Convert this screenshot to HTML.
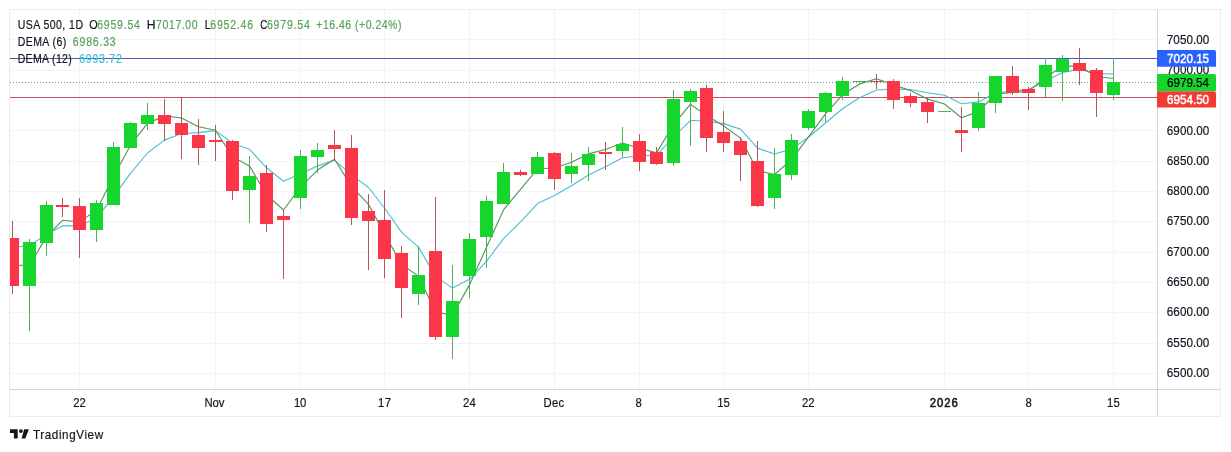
<!DOCTYPE html><html><head><meta charset="utf-8"><style>html,body{margin:0;padding:0;background:#fff;width:1231px;height:452px;overflow:hidden}svg{position:absolute;left:0;top:0;will-change:transform;font-family:"Liberation Sans",sans-serif}</style></head><body>
<svg width="1231" height="452" viewBox="0 0 1231 452">
<path d="M10 373.5H1157 M10 343.5H1157 M10 312.5H1157 M10 282.5H1157 M10 252.5H1157 M10 221.5H1157 M10 191.5H1157 M10 161.5H1157 M10 130.5H1157 M10 100.5H1157 M10 70.5H1157 M10 39.5H1157 M79.5 10V389 M215.5 10V389 M300.5 10V389 M384.5 10V389 M469.5 10V389 M554.5 10V389 M639.5 10V389 M723.5 10V389 M808.5 10V389 M944.5 10V389 M1028.5 10V389 M1113.5 10V389" stroke="#f4f4f7" stroke-width="1" fill="none"/>
<defs><clipPath id="pane"><rect x="10" y="10" width="1147" height="379"/></clipPath></defs>
<g clip-path="url(#pane)">
<rect x="10" y="58" width="1147" height="1" fill="#4d5fb0"/>
<line x1="10" y1="82.5" x2="1157" y2="82.5" stroke="#6aa272" stroke-width="1" stroke-dasharray="1 2"/>
<rect x="10" y="97" width="1147" height="1" fill="#c4525a"/>
<polyline points="12.5,247.3 29.5,245.9 46.5,234.3 62.5,225.9 79.5,225.8 96.5,218.3 113.5,196.7 130.5,173.3 147.5,153.0 164.5,140.1 181.5,133.5 198.5,132.6 215.5,130.6 232.5,143.3 249.5,149.3 266.5,167.8 283.5,181.3 300.5,173.7 317.5,166.1 334.5,160.1 351.5,174.9 368.5,187.5 384.5,208.0 401.5,232.1 418.5,247.1 435.5,276.1 452.5,288.1 469.5,279.3 486.5,261.3 503.5,238.7 520.5,221.8 537.5,203.6 554.5,195.5 571.5,185.8 588.5,175.0 605.5,166.7 622.5,157.8 639.5,156.0 656.5,155.3 673.5,136.8 690.5,120.3 706.5,121.2 723.5,123.6 740.5,129.1 757.5,148.1 774.5,154.0 791.5,149.1 808.5,137.3 825.5,123.0 842.5,108.7 859.5,97.8 876.5,90.0 893.5,89.1 910.5,89.5 927.5,92.8 944.5,95.3 961.5,103.7 978.5,101.9 995.5,93.0 1012.5,91.0 1028.5,89.6 1045.5,80.9 1062.5,72.4 1079.5,69.5 1096.5,73.6 1113.5,74.0" fill="none" stroke="#4cbfd2" stroke-width="1.15" stroke-linejoin="round"/>
<polyline points="12.5,265.0 29.5,265.6 46.5,236.6 62.5,220.3 79.5,221.9 96.5,210.3 113.5,176.5 130.5,145.2 147.5,123.4 164.5,115.9 181.5,118.0 198.5,126.8 215.5,130.2 232.5,156.7 249.5,165.9 266.5,194.7 283.5,210.0 300.5,187.1 317.5,170.1 334.5,159.2 351.5,186.4 368.5,204.4 384.5,233.5 401.5,264.5 418.5,276.1 435.5,312.1 452.5,315.0 469.5,284.9 486.5,247.2 503.5,209.9 520.5,189.3 537.5,168.8 554.5,168.0 571.5,162.3 588.5,153.9 605.5,149.5 622.5,143.0 639.5,148.2 656.5,152.9 673.5,124.7 690.5,104.2 706.5,115.6 723.5,125.8 740.5,138.1 757.5,170.7 774.5,174.5 791.5,159.8 808.5,136.8 825.5,113.9 842.5,94.8 859.5,83.9 876.5,78.7 893.5,84.8 910.5,90.6 927.5,99.1 944.5,104.0 961.5,117.7 978.5,111.4 995.5,94.3 1012.5,92.4 1028.5,91.3 1045.5,77.5 1062.5,66.2 1079.5,65.9 1096.5,76.7 1113.5,78.5" fill="none" stroke="#54985a" stroke-width="1.15" stroke-linejoin="round"/>
<rect x="12" y="221" width="1" height="73" fill="#b7555e"/>
<rect x="6" y="238" width="13" height="48" fill="#fb3649"/>
<rect x="29" y="239" width="1" height="92" fill="#50b05c"/>
<rect x="23" y="242" width="13" height="44" fill="#16d62e"/>
<rect x="46" y="201" width="1" height="55" fill="#50b05c"/>
<rect x="40" y="205" width="13" height="38" fill="#16d62e"/>
<rect x="62" y="198" width="1" height="19" fill="#b7555e"/>
<rect x="56" y="205" width="13" height="2" fill="#fb3649"/>
<rect x="79" y="198" width="1" height="60" fill="#b7555e"/>
<rect x="73" y="206" width="13" height="24" fill="#fb3649"/>
<rect x="96" y="200" width="1" height="42" fill="#50b05c"/>
<rect x="90" y="203" width="13" height="27" fill="#16d62e"/>
<rect x="113" y="142" width="1" height="63" fill="#50b05c"/>
<rect x="107" y="147" width="13" height="58" fill="#16d62e"/>
<rect x="130" y="122" width="1" height="26" fill="#50b05c"/>
<rect x="124" y="123" width="13" height="25" fill="#16d62e"/>
<rect x="147" y="103" width="1" height="27" fill="#50b05c"/>
<rect x="141" y="115" width="13" height="9" fill="#16d62e"/>
<rect x="164" y="99" width="1" height="42" fill="#b7555e"/>
<rect x="158" y="115" width="13" height="9" fill="#fb3649"/>
<rect x="181" y="97" width="1" height="62" fill="#b7555e"/>
<rect x="175" y="123" width="13" height="12" fill="#fb3649"/>
<rect x="198" y="119" width="1" height="46" fill="#b7555e"/>
<rect x="192" y="135" width="13" height="13" fill="#fb3649"/>
<rect x="215" y="125" width="1" height="36" fill="#b7555e"/>
<rect x="209" y="140" width="13" height="2" fill="#fb3649"/>
<rect x="232" y="140" width="1" height="60" fill="#b7555e"/>
<rect x="226" y="141" width="13" height="50" fill="#fb3649"/>
<rect x="249" y="156" width="1" height="67" fill="#50b05c"/>
<rect x="243" y="176" width="13" height="14" fill="#16d62e"/>
<rect x="266" y="165" width="1" height="67" fill="#b7555e"/>
<rect x="260" y="173" width="13" height="51" fill="#fb3649"/>
<rect x="283" y="210" width="1" height="69" fill="#b7555e"/>
<rect x="277" y="216" width="13" height="4" fill="#fb3649"/>
<rect x="300" y="150" width="1" height="59" fill="#50b05c"/>
<rect x="294" y="156" width="13" height="42" fill="#16d62e"/>
<rect x="317" y="143" width="1" height="30" fill="#50b05c"/>
<rect x="311" y="150" width="13" height="7" fill="#16d62e"/>
<rect x="334" y="130" width="1" height="30" fill="#b7555e"/>
<rect x="328" y="145" width="13" height="4" fill="#fb3649"/>
<rect x="351" y="135" width="1" height="90" fill="#b7555e"/>
<rect x="345" y="148" width="13" height="70" fill="#fb3649"/>
<rect x="368" y="194" width="1" height="76" fill="#b7555e"/>
<rect x="362" y="211" width="13" height="10" fill="#fb3649"/>
<rect x="384" y="190" width="1" height="88" fill="#b7555e"/>
<rect x="378" y="220" width="13" height="39" fill="#fb3649"/>
<rect x="401" y="246" width="1" height="72" fill="#b7555e"/>
<rect x="395" y="253" width="13" height="35" fill="#fb3649"/>
<rect x="418" y="246" width="1" height="59" fill="#50b05c"/>
<rect x="412" y="275" width="13" height="19" fill="#16d62e"/>
<rect x="435" y="197" width="1" height="143" fill="#b7555e"/>
<rect x="429" y="251" width="13" height="86" fill="#fb3649"/>
<rect x="452" y="265" width="1" height="94" fill="#50b05c"/>
<rect x="446" y="301" width="13" height="36" fill="#16d62e"/>
<rect x="469" y="233" width="1" height="65" fill="#50b05c"/>
<rect x="463" y="239" width="13" height="37" fill="#16d62e"/>
<rect x="486" y="196" width="1" height="72" fill="#50b05c"/>
<rect x="480" y="201" width="13" height="36" fill="#16d62e"/>
<rect x="503" y="163" width="1" height="41" fill="#50b05c"/>
<rect x="497" y="172" width="13" height="32" fill="#16d62e"/>
<rect x="520" y="170" width="1" height="6" fill="#b7555e"/>
<rect x="514" y="172" width="13" height="3" fill="#fb3649"/>
<rect x="537" y="152" width="1" height="22" fill="#50b05c"/>
<rect x="531" y="157" width="13" height="17" fill="#16d62e"/>
<rect x="554" y="152" width="1" height="38" fill="#b7555e"/>
<rect x="548" y="153" width="13" height="26" fill="#fb3649"/>
<rect x="571" y="153" width="1" height="30" fill="#50b05c"/>
<rect x="565" y="166" width="13" height="8" fill="#16d62e"/>
<rect x="588" y="147" width="1" height="34" fill="#50b05c"/>
<rect x="582" y="154" width="13" height="11" fill="#16d62e"/>
<rect x="605" y="142" width="1" height="28" fill="#b7555e"/>
<rect x="599" y="152" width="13" height="2" fill="#fb3649"/>
<rect x="622" y="127" width="1" height="30" fill="#50b05c"/>
<rect x="616" y="144" width="13" height="7" fill="#16d62e"/>
<rect x="639" y="134" width="1" height="37" fill="#b7555e"/>
<rect x="633" y="141" width="13" height="21" fill="#fb3649"/>
<rect x="656" y="147" width="1" height="18" fill="#b7555e"/>
<rect x="650" y="152" width="13" height="12" fill="#fb3649"/>
<rect x="673" y="90" width="1" height="76" fill="#50b05c"/>
<rect x="667" y="99" width="13" height="64" fill="#16d62e"/>
<rect x="690" y="89" width="1" height="57" fill="#50b05c"/>
<rect x="684" y="91" width="13" height="11" fill="#16d62e"/>
<rect x="706" y="85" width="1" height="67" fill="#b7555e"/>
<rect x="700" y="88" width="13" height="50" fill="#fb3649"/>
<rect x="723" y="111" width="1" height="41" fill="#b7555e"/>
<rect x="717" y="132" width="13" height="11" fill="#fb3649"/>
<rect x="740" y="137" width="1" height="44" fill="#b7555e"/>
<rect x="734" y="141" width="13" height="14" fill="#fb3649"/>
<rect x="757" y="141" width="1" height="66" fill="#b7555e"/>
<rect x="751" y="161" width="13" height="45" fill="#fb3649"/>
<rect x="774" y="148" width="1" height="61" fill="#50b05c"/>
<rect x="768" y="174" width="13" height="24" fill="#16d62e"/>
<rect x="791" y="134" width="1" height="46" fill="#50b05c"/>
<rect x="785" y="140" width="13" height="35" fill="#16d62e"/>
<rect x="808" y="109" width="1" height="21" fill="#50b05c"/>
<rect x="802" y="111" width="13" height="17" fill="#16d62e"/>
<rect x="825" y="92" width="1" height="30" fill="#50b05c"/>
<rect x="819" y="93" width="13" height="19" fill="#16d62e"/>
<rect x="842" y="77" width="1" height="23" fill="#50b05c"/>
<rect x="836" y="81" width="13" height="15" fill="#16d62e"/>
<rect x="859" y="81" width="1" height="1" fill="#50b05c"/>
<rect x="853" y="81" width="13" height="1" fill="#50b05c"/>
<rect x="876" y="74" width="1" height="15" fill="#b7555e"/>
<rect x="870" y="81" width="13" height="1" fill="#b7555e"/>
<rect x="893" y="79" width="1" height="30" fill="#b7555e"/>
<rect x="887" y="81" width="13" height="19" fill="#fb3649"/>
<rect x="910" y="93" width="1" height="14" fill="#b7555e"/>
<rect x="904" y="96" width="13" height="7" fill="#fb3649"/>
<rect x="927" y="98" width="1" height="25" fill="#b7555e"/>
<rect x="921" y="102" width="13" height="10" fill="#fb3649"/>
<rect x="944" y="111" width="1" height="1" fill="#50b05c"/>
<rect x="938" y="111" width="13" height="1" fill="#50b05c"/>
<rect x="961" y="107" width="1" height="45" fill="#b7555e"/>
<rect x="955" y="130" width="13" height="3" fill="#fb3649"/>
<rect x="978" y="92" width="1" height="39" fill="#50b05c"/>
<rect x="972" y="103" width="13" height="25" fill="#16d62e"/>
<rect x="995" y="76" width="1" height="37" fill="#50b05c"/>
<rect x="989" y="76" width="13" height="27" fill="#16d62e"/>
<rect x="1012" y="66" width="1" height="29" fill="#b7555e"/>
<rect x="1006" y="76" width="13" height="17" fill="#fb3649"/>
<rect x="1028" y="87" width="1" height="23" fill="#b7555e"/>
<rect x="1022" y="89" width="13" height="4" fill="#fb3649"/>
<rect x="1045" y="58" width="1" height="39" fill="#50b05c"/>
<rect x="1039" y="65" width="13" height="22" fill="#16d62e"/>
<rect x="1062" y="55" width="1" height="46" fill="#50b05c"/>
<rect x="1056" y="59" width="13" height="13" fill="#16d62e"/>
<rect x="1079" y="48" width="1" height="37" fill="#b7555e"/>
<rect x="1073" y="63" width="13" height="8" fill="#fb3649"/>
<rect x="1096" y="68" width="1" height="49" fill="#b7555e"/>
<rect x="1090" y="70" width="13" height="23" fill="#fb3649"/>
<rect x="1113" y="58" width="1" height="42" fill="#50b05c"/>
<rect x="1107" y="82" width="13" height="13" fill="#16d62e"/>
</g>
<rect x="9.5" y="9.5" width="1211" height="407" fill="none" stroke="#ebebeb"/>
<path d="M1157.5 10V416 M10 389.5H1220" stroke="#d4d5d8" stroke-width="1"/>
<text transform="translate(1166.82,376.80) scale(0.9500,1)" font-size="12.3" fill="#131722" textLength="44.75" lengthAdjust="spacing" stroke="#131722" stroke-width="0.2">6500.00</text>
<text transform="translate(1166.82,346.53) scale(0.9500,1)" font-size="12.3" fill="#131722" textLength="44.75" lengthAdjust="spacing" stroke="#131722" stroke-width="0.2">6550.00</text>
<text transform="translate(1166.82,316.27) scale(0.9500,1)" font-size="12.3" fill="#131722" textLength="44.75" lengthAdjust="spacing" stroke="#131722" stroke-width="0.2">6600.00</text>
<text transform="translate(1166.82,286.00) scale(0.9500,1)" font-size="12.3" fill="#131722" textLength="44.75" lengthAdjust="spacing" stroke="#131722" stroke-width="0.2">6650.00</text>
<text transform="translate(1166.82,255.74) scale(0.9500,1)" font-size="12.3" fill="#131722" textLength="44.75" lengthAdjust="spacing" stroke="#131722" stroke-width="0.2">6700.00</text>
<text transform="translate(1166.82,225.47) scale(0.9500,1)" font-size="12.3" fill="#131722" textLength="44.75" lengthAdjust="spacing" stroke="#131722" stroke-width="0.2">6750.00</text>
<text transform="translate(1166.82,195.21) scale(0.9500,1)" font-size="12.3" fill="#131722" textLength="44.75" lengthAdjust="spacing" stroke="#131722" stroke-width="0.2">6800.00</text>
<text transform="translate(1166.82,164.94) scale(0.9500,1)" font-size="12.3" fill="#131722" textLength="44.75" lengthAdjust="spacing" stroke="#131722" stroke-width="0.2">6850.00</text>
<text transform="translate(1166.82,134.68) scale(0.9500,1)" font-size="12.3" fill="#131722" textLength="44.75" lengthAdjust="spacing" stroke="#131722" stroke-width="0.2">6900.00</text>
<text transform="translate(1166.82,104.41) scale(0.9500,1)" font-size="12.3" fill="#131722" textLength="44.75" lengthAdjust="spacing" stroke="#131722" stroke-width="0.2">6950.00</text>
<text transform="translate(1166.82,74.15) scale(0.9500,1)" font-size="12.3" fill="#131722" textLength="44.75" lengthAdjust="spacing" stroke="#131722" stroke-width="0.2">7000.00</text>
<text transform="translate(1166.82,43.89) scale(0.9500,1)" font-size="12.3" fill="#131722" textLength="44.75" lengthAdjust="spacing" stroke="#131722" stroke-width="0.2">7050.00</text>
<path d="M1157 50H1214Q1216 50 1216 52V66.7H1157Z" fill="#2962ff"/><text transform="translate(1167.02,62.70) scale(0.9500,1)" font-size="12.3" fill="#ffffff" textLength="44.32" lengthAdjust="spacing" stroke="#fff" stroke-width="0.45">7020.15</text>
<path d="M1157 74H1214Q1216 74 1216 76V91H1157Z" fill="#16d62e"/><text transform="translate(1167.02,86.60) scale(0.9500,1)" font-size="12.3" fill="#000000" textLength="44.20" lengthAdjust="spacing" stroke="#000000" stroke-width="0.2">6979.54</text>
<path d="M1157 91.2H1214Q1216 91.2 1216 93.2V107.6H1157Z" fill="#f23b33"/><text transform="translate(1167.02,103.50) scale(0.9500,1)" font-size="12.3" fill="#ffffff" textLength="44.32" lengthAdjust="spacing" stroke="#fff" stroke-width="0.45">6954.50</text>
<text transform="translate(73.13,406.60) scale(0.9500,1)" font-size="11.9" fill="#131722" textLength="13.32" lengthAdjust="spacing" stroke="#131722" stroke-width="0.2">22</text>
<text transform="translate(204.50,406.60) scale(0.9500,1)" font-size="11.9" fill="#131722" textLength="21.05" lengthAdjust="spacing" stroke="#131722" stroke-width="0.2">Nov</text>
<text transform="translate(294.10,406.60) scale(0.9500,1)" font-size="11.9" fill="#131722" textLength="12.72" lengthAdjust="spacing" stroke="#131722" stroke-width="0.2">10</text>
<text transform="translate(377.90,406.60) scale(0.9500,1)" font-size="11.9" fill="#131722" textLength="13.89" lengthAdjust="spacing" stroke="#131722" stroke-width="0.2">17</text>
<text transform="translate(463.03,406.60) scale(0.9500,1)" font-size="11.9" fill="#131722" textLength="13.30" lengthAdjust="spacing" stroke="#131722" stroke-width="0.2">24</text>
<text transform="translate(543.40,406.60) scale(0.9500,1)" font-size="11.9" fill="#131722" textLength="21.82" lengthAdjust="spacing" stroke="#131722" stroke-width="0.2">Dec</text>
<text transform="translate(635.45,406.60) scale(0.9476,1)" font-size="11.9" fill="#131722" textLength="6.62" lengthAdjust="spacing" stroke="#131722" stroke-width="0.2">8</text>
<text transform="translate(717.30,406.60) scale(0.9500,1)" font-size="11.9" fill="#131722" textLength="13.03" lengthAdjust="spacing" stroke="#131722" stroke-width="0.2">15</text>
<text transform="translate(801.93,406.60) scale(0.9500,1)" font-size="11.9" fill="#131722" textLength="13.32" lengthAdjust="spacing" stroke="#131722" stroke-width="0.2">22</text>
<text transform="translate(929.83,406.60) scale(0.9500,1)" font-size="11.9" fill="#131722" textLength="29.34" lengthAdjust="spacing" stroke="#131722" stroke-width="0.55">2026</text>
<text transform="translate(1025.45,406.60) scale(0.9476,1)" font-size="11.9" fill="#131722" textLength="6.62" lengthAdjust="spacing" stroke="#131722" stroke-width="0.2">8</text>
<text transform="translate(1106.90,406.60) scale(0.9500,1)" font-size="11.9" fill="#131722" textLength="13.46" lengthAdjust="spacing" stroke="#131722" stroke-width="0.2">15</text>
<text transform="translate(17.66,28.60) scale(0.8500,1)" font-size="12.4" fill="#131722" textLength="76.92" lengthAdjust="spacing" stroke="#131722" stroke-width="0.2">USA 500, 1D</text>
<text transform="translate(89.36,28.60) scale(0.8776,1)" font-size="12.4" fill="#131722" textLength="9.65" lengthAdjust="spacing" stroke="#131722" stroke-width="0.2">O</text>
<text transform="translate(97.17,28.60) scale(0.8500,1)" font-size="12.4" fill="#55a35c" textLength="50.35" lengthAdjust="spacing" stroke="#55a35c" stroke-width="0.2">6959.54</text>
<text transform="translate(146.83,28.60) scale(0.9793,1)" font-size="12.4" fill="#131722" textLength="8.96" lengthAdjust="spacing" stroke="#131722" stroke-width="0.2">H</text>
<text transform="translate(156.07,28.60) scale(0.8500,1)" font-size="12.4" fill="#55a35c" textLength="48.94" lengthAdjust="spacing" stroke="#55a35c" stroke-width="0.2">7017.00</text>
<text transform="translate(204.73,28.60) scale(0.8798,1)" font-size="12.4" fill="#131722" textLength="6.90" lengthAdjust="spacing" stroke="#131722" stroke-width="0.2">L</text>
<text transform="translate(210.37,28.60) scale(0.8500,1)" font-size="12.4" fill="#55a35c" textLength="50.23" lengthAdjust="spacing" stroke="#55a35c" stroke-width="0.2">6952.46</text>
<text transform="translate(260.21,28.60) scale(0.7937,1)" font-size="12.4" fill="#131722" textLength="8.96" lengthAdjust="spacing" stroke="#131722" stroke-width="0.2">C</text>
<text transform="translate(266.97,28.60) scale(0.8500,1)" font-size="12.4" fill="#55a35c" textLength="50.46" lengthAdjust="spacing" stroke="#55a35c" stroke-width="0.2">6979.54</text>
<text transform="translate(316.37,28.60) scale(0.8500,1)" font-size="12.4" fill="#55a35c" textLength="100.07" lengthAdjust="spacing" stroke="#55a35c" stroke-width="0.2">+16.46 (+0.24%)</text>
<text transform="translate(17.66,45.80) scale(0.8500,1)" font-size="12.4" fill="#131722" textLength="57.32" lengthAdjust="spacing" stroke="#131722" stroke-width="0.2">DEMA (6)</text>
<text transform="translate(72.87,45.80) scale(0.8500,1)" font-size="12.4" fill="#55a35c" textLength="50.35" lengthAdjust="spacing" stroke="#55a35c" stroke-width="0.2">6986.33</text>
<text transform="translate(17.66,62.60) scale(0.8500,1)" font-size="12.4" fill="#131722" textLength="63.74" lengthAdjust="spacing" stroke="#131722" stroke-width="0.2">DEMA (12)</text>
<text transform="translate(79.17,62.60) scale(0.8500,1)" font-size="12.4" fill="#3bbdd3" textLength="50.12" lengthAdjust="spacing" stroke="#3bbdd3" stroke-width="0.2">6993.72</text>
<g fill="#131722"><path d="M10 429.2H17.7V438.6H13.9V432.9H10Z"/><circle cx="20.9" cy="431.1" r="1.9"/><path d="M24.2 429.2H28.9L25.3 438.6H21.5Z"/></g>
<text transform="translate(32.97,439.00) scale(0.9500,1)" font-size="12.3" fill="#131722" textLength="73.86" lengthAdjust="spacing" stroke="#131722" stroke-width="0.2">TradingView</text>
</svg></body></html>
